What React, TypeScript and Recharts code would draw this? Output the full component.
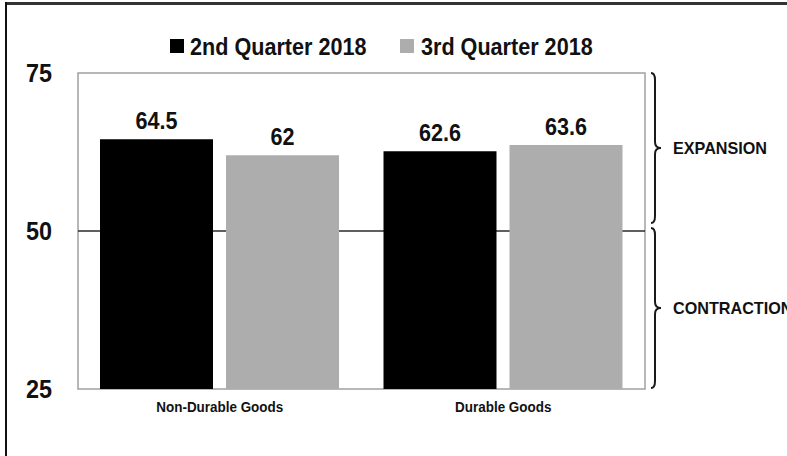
import React from 'react';
import { BarChart, Bar, XAxis, YAxis, ReferenceArea, LabelList, Legend } from 'recharts';

const categories = ['Non-Durable Goods', 'Durable Goods'];
const q2Values = [64.5, 62.6];
const q3Values = [62, 63.6];
const yTicks = [25, 50, 75];
const seriesNames = ['2nd Quarter 2018', '3rd Quarter 2018'];
const zoneLabels = ['EXPANSION', 'CONTRACTION'];

const data = categories.map((c, i) => ({ name: c, q2: q2Values[i], q3: q3Values[i] }));

const FONT = "'Liberation Sans', Arial, Helvetica, sans-serif";
const BLACK = '#000000';
const GREY = '#adadad';
const INK = '#111111';

const CText = ({ x, y, size, sx, anchor = 'start', dy = '0', children }: any) => (
  <text transform={`translate(${x},${y}) scale(${sx},1)`} x={0} y={0} dy={dy} textAnchor={anchor} fontFamily={FONT} fontWeight="bold" fontSize={size} fill={INK}>
    {children}
  </text>
);

const bracePath = (xb: number, y0: number, y1: number) => {
  const ym = (y0 + y1) / 2;
  return `M ${xb - 4} ${y0} Q ${xb} ${y0} ${xb} ${y0 + 7} L ${xb} ${ym - 6} Q ${xb} ${ym} ${xb + 6} ${ym} Q ${xb} ${ym} ${xb} ${ym + 6} L ${xb} ${y1 - 7} Q ${xb} ${y1} ${xb - 4} ${y1}`;
};

const Brace = ({ xb, y0, y1, label }: any) => {
  const ym = (y0 + y1) / 2;
  return (
    <g>
      <path d={bracePath(xb, y0, y1)} fill="none" stroke="#1a1a1a" strokeWidth={2} />
      <CText x={xb + 18} y={ym} size={16.5} sx={0.98} dy="0.355em">{label}</CText>
    </g>
  );
};

// Shape for the 25..50 area: derives the whole frame, the 50 line and both braces from its scaled box.
const FrameShape = (props: any) => {
  const { x, y, width, height } = props;
  const yTop = y - height; // pixel of 75 (same span as 25..50)
  const yBottom = y + height; // pixel of 25
  const xb = x + width + 10;
  return (
    <g>
      <rect x={x} y={yTop} width={width} height={yBottom - yTop} fill="none" stroke="#a0a0a0" strokeWidth={1.5} />
      <line x1={x} x2={x + width} y1={y} y2={y} stroke="#2a2a2a" strokeWidth={1.5} />
      <Brace xb={xb} y0={yTop} y1={y - 8} label={zoneLabels[0]} />
      <Brace xb={xb} y0={y - 3} y1={yBottom - 1} label={zoneLabels[1]} />
    </g>
  );
};

const renderLegend = () => (
  <svg width={787} height={30} style={{ display: 'block' }}>
    <rect x={170} y={8} width={14} height={14} fill={BLACK} />
    <CText x={190} y={15} size={24} sx={0.9} dy="0.355em">{seriesNames[0]}</CText>
    <rect x={400} y={8} width={14} height={14} fill={GREY} />
    <CText x={421} y={15} size={24} sx={0.9} dy="0.355em">{seriesNames[1]}</CText>
  </svg>
);

const YTick = (props: any) => {
  const { x, y, payload } = props;
  return <CText x={x} y={y} size={26} sx={0.9} anchor="end" dy="0.355em">{payload.value}</CText>;
};

const XTick = (props: any) => {
  const { x, y, payload } = props;
  return <CText x={x} y={y} size={14} sx={0.96} anchor="middle" dy="0.71em">{payload.value}</CText>;
};

const ValueLabel = (props: any) => {
  const { x, y, width, value } = props;
  return <CText x={x + width / 2} y={y - 10} size={24} sx={0.9} anchor="middle">{value}</CText>;
};

const first = categories[0];
const last = categories[categories.length - 1];

export default function App() {
  return (
    <div style={{ position: 'fixed', left: 0, top: 0, width: 787, height: 456, background: '#fff', overflow: 'hidden' }}>
      <BarChart width={787} height={456} data={data} margin={{ top: 73, right: 142, bottom: 37, left: 0 }} barCategoryGap={22} barGap={13}>
        <XAxis dataKey="name" height={30} axisLine={false} tickLine={false} tickSize={0} tickMargin={13} tick={<XTick />} interval={0} />
        <YAxis domain={[25, 75]} ticks={yTicks} width={78} axisLine={false} tickLine={false} tickSize={0} tickMargin={26} tick={<YTick />} />
        <Legend verticalAlign="middle" align="center" layout="horizontal" content={renderLegend} wrapperStyle={{ top: 31, left: 0, width: 787 }} />
        <Bar dataKey="q2" name={seriesNames[0]} fill={BLACK} isAnimationActive={false}>
          <LabelList dataKey="q2" content={<ValueLabel />} />
        </Bar>
        <Bar dataKey="q3" name={seriesNames[1]} fill={GREY} isAnimationActive={false}>
          <LabelList dataKey="q3" content={<ValueLabel />} />
        </Bar>
        <ReferenceArea x1={first} x2={last} y1={25} y2={50} ifOverflow="visible" shape={<FrameShape />} />
      </BarChart>
      <div style={{ position: 'absolute', left: 5, top: 2, width: 782, height: 3, background: '#333', zIndex: 1000 }} />
      <div style={{ position: 'absolute', left: 5, top: 2, width: 2, height: 454, background: '#111', zIndex: 1000 }} />
    </div>
  );
}
